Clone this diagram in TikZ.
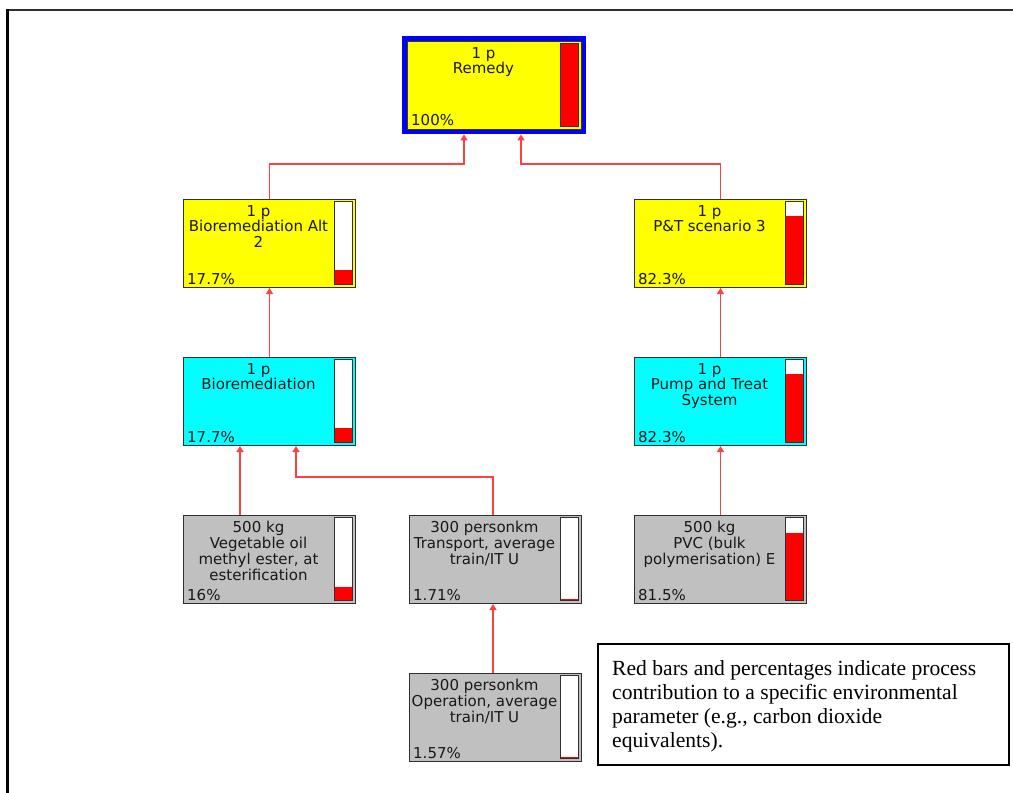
\documentclass[tikz,border=0pt]{standalone}
\usepackage{fontspec}
\setmainfont{Liberation Serif}
\newfontfamily\boxfont{DejaVu Sans}
\usetikzlibrary{arrows.meta,calc}
\definecolor{pyellow}{HTML}{FFFF00}
\definecolor{pcyan}{HTML}{00FFFF}
\definecolor{pgray}{HTML}{C0C0C0}
\definecolor{pred}{HTML}{FF0000}
\definecolor{pblue}{HTML}{0000FF}
\definecolor{boxedge}{HTML}{303030}
\definecolor{olive}{HTML}{404000}
\definecolor{linkred}{HTML}{FF4040}
\definecolor{txt}{HTML}{181818}
\tikzset{
  proc/.style={draw=boxedge, line width=1pt, minimum width=172pt, minimum height=88pt, inner sep=0pt, anchor=north west},
  link/.style={draw=linkred, line width=1.4pt, -{Triangle[width=7pt,length=6pt]}},
  lbl/.style={font=\boxfont\fontsize{15}{15.8}\selectfont, align=center, inner sep=0pt, anchor=north, text=txt},
  pct/.style={font=\boxfont\fontsize{15}{15.8}\selectfont, inner sep=0pt, anchor=base west, text=txt},
  barbox/.style={draw=boxedge, fill=white, line width=0.8pt},
  barfill/.style={fill=pred},
  frameline/.style={line width=3pt, draw=black},
  note/.style={draw=black, line width=1.6pt, minimum width=411pt, minimum height=121pt, inner sep=0pt, anchor=north west},
  notetext/.style={font=\fontsize{21.6}{23.8}\selectfont, align=left, inner sep=0pt, anchor=north west, text=black}
}
% name, x, y, fill, label, percent, fraction
\newcommand\procbox[7]{%
  \node[proc, fill=#4] (#1) at (#2,#3) {};
  \pgfmathsetmacro\bxl{#2+172-21}
  \pgfmathsetmacro\bxr{#2+172-3}
  \pgfmathsetmacro\byt{#3+2.5}
  \pgfmathsetmacro\byb{#3+88-2.5}
  \pgfmathsetmacro\byr{#3+88-2.5-#7*(88-5)}
  \draw[barbox] (\bxl,\byt) rectangle (\bxr,\byb);
  \fill[barfill] (\bxl,\byr) rectangle (\bxr,\byb);
  \draw[boxedge, line width=0.8pt] (\bxl,\byt) rectangle (\bxr,\byb);
  \node[lbl] (#1-l) at ($(#1.north west)+(75.5,6)$) {#5};
  \node[pct] (#1-p) at ($(#1.south west)+(4,-4)$) {#6};
}
\begin{document}
\begin{tikzpicture}[x=1pt,y=-1pt]
\useasboundingbox (0,0) rectangle (1013,793);
\fill[white] (0,0) rectangle (1013,793);
% outer frame
\draw[line width=2pt, draw=boxedge] (6,10) -- (1013,10);
\draw[frameline] (7,9) -- (7,793);

% Remedy
\node[fill=pblue, minimum width=184pt, minimum height=98pt, inner sep=0pt, anchor=north west] (remedy) at (402,36) {};
\node[fill=pyellow, draw=olive, line width=1pt, minimum width=174pt, minimum height=88pt, inner sep=0pt, anchor=north west] (remedyin) at (407,41) {};
\draw[barbox, fill=pred] (560,43.5) rectangle (578,126.5);
\node[lbl] (remedy-l) at (483.5,47) {1 p\\Remedy};
\node[pct] (remedy-p) at (411,125) {100\%};

\procbox{alt}{183}{199}{pyellow}{1 p\\Bioremediation Alt\\2}{17.7\%}{0.177}
\procbox{pt}{634}{199}{pyellow}{1 p\\P\&T scenario 3}{82.3\%}{0.823}
\procbox{bio}{183}{357}{pcyan}{1 p\\Bioremediation}{17.7\%}{0.177}
\procbox{pump}{634}{357}{pcyan}{1 p\\Pump and Treat\\System}{82.3\%}{0.823}
\procbox{veg}{183}{515}{pgray}{500 kg\\Vegetable oil\\methyl ester, at\\esterification}{16\%}{0.16}
\procbox{trans}{409}{515}{pgray}{300 personkm\\Transport, average\\train/IT U}{1.71\%}{0.02}
\procbox{pvc}{634}{515}{pgray}{500 kg\\PVC (bulk\\polymerisation) E}{81.5\%}{0.815}
\procbox{op}{409}{673}{pgray}{300 personkm\\Operation, average\\train/IT U}{1.57\%}{0.02}

% connectors
\draw[link] (alt.north) -- ++(0,-35) -| ($(remedy.south west)+(62,0)$);
\draw[link] (pt.north) -- ++(0,-35) -| ($(remedy.south west)+(119,0)$);
\draw[link] (bio.north) -- (alt.south);
\draw[link] (pump.north) -- (pt.south);
\draw[link] ($(veg.north west)+(57,0)$) -- ($(bio.south west)+(57,0)$);
\draw[link] ($(trans.north west)+(84,0)$) -- ++(0,-38) -| ($(bio.south west)+(113,0)$);
\draw[link] (pvc.north) -- (pump.south);
\draw[link] ($(op.north west)+(84,0)$) -- ($(trans.south west)+(84,0)$);

% note
\node[note] (note) at (597,643) {};
\node[notetext] (note-t) at (612,660.5) {Red bars and percentages indicate process\\contribution to a specific environmental\\parameter (e.g., carbon dioxide\\equivalents).};
\end{tikzpicture}
\end{document}
